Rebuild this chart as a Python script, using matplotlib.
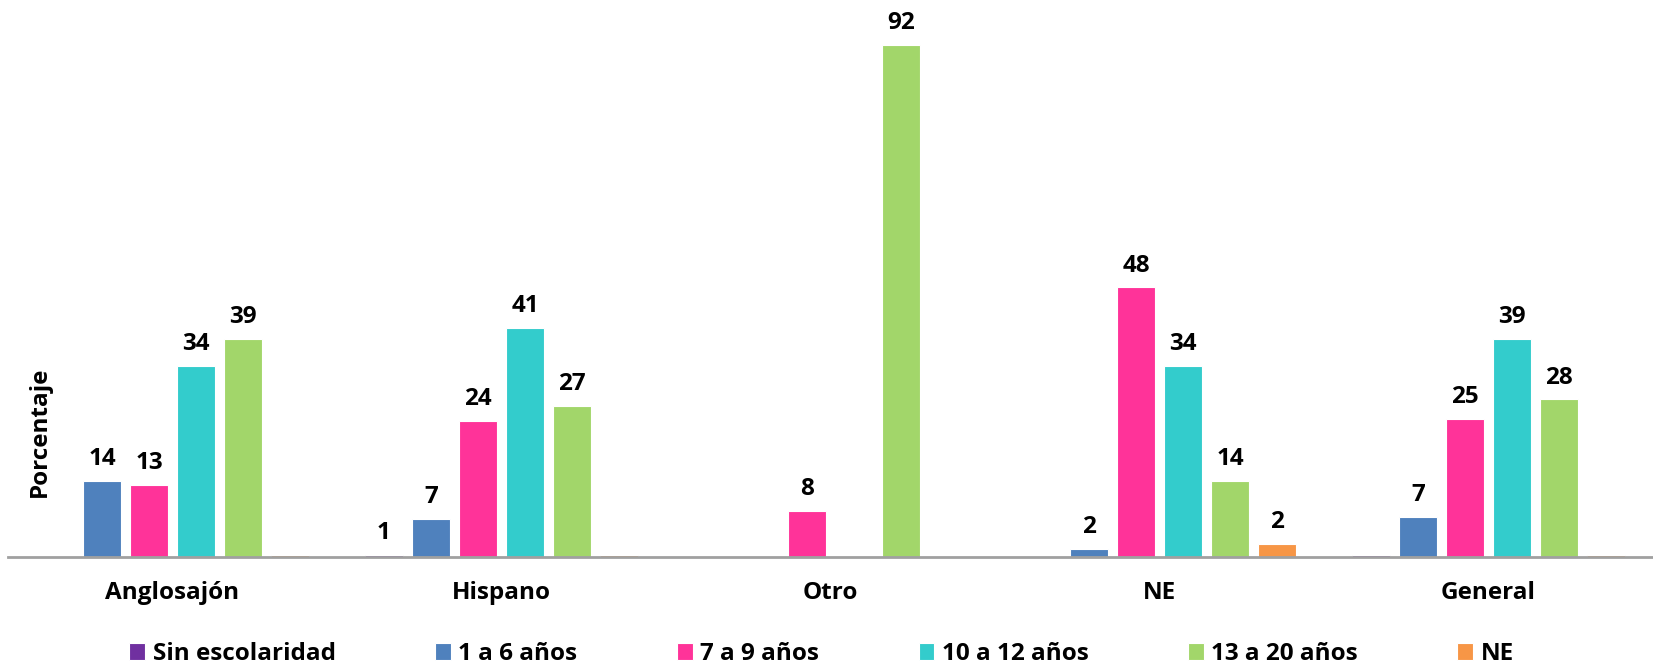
import matplotlib.pyplot as plt
import numpy as np

plt.rcParams['font.family'] = ['Open Sans', 'DejaVu Sans']
plt.rcParams['font.weight'] = 'bold'

categories = ['Anglosajón', 'Hispano', 'Otro', 'NE', 'General']
series = ['Sin escolaridad', '1 a 6 años', '7 a 9 años', '10 a 12 años', '13 a 20 años', 'NE']
colors = ['#7030A0', '#4F81BD', '#FF3399', '#33CCCC', '#A2D66A', '#F79646']

sin_escolaridad = [0, 0.4, 0, 0, 0.4]
anios_1_6 = [13.7, 6.8, 0, 1.5, 7.2]
anios_7_9 = [12.9, 24.5, 8.3, 48.4, 24.8]
anios_10_12 = [34.3, 41.2, 0, 34.3, 39.1]
anios_13_20 = [39.1, 27.1, 92, 13.7, 28.3]
ne = [0.3, 0.3, 0, 2.3, 0.4]

lab_sin = ['', '1', '', '', '']
lab_1_6 = ['14', '7', '', '2', '7']
lab_7_9 = ['13', '24', '8', '48', '25']
lab_10_12 = ['34', '41', '', '34', '39']
lab_13_20 = ['39', '27', '92', '14', '28']
lab_ne = ['', '', '', '2', '']

values = [sin_escolaridad, anios_1_6, anios_7_9, anios_10_12, anios_13_20, ne]
labels = [lab_sin, lab_1_6, lab_7_9, lab_10_12, lab_13_20, lab_ne]

fig = plt.figure(figsize=(16.53, 6.65), dpi=100)
ax = fig.add_axes([8/1653, 108/665, 1 - 8/1653, 557/665])

x = np.arange(len(categories))
step = 0.143
width = 0.116
for i, (vals, labs) in enumerate(zip(values, labels)):
    pos = x + (i - 2.5) * step
    bars = ax.bar(pos, vals, width, color=colors[i], edgecolor='white',
                  linewidth=0.8, label=series[i])
    for b, t in zip(bars, labs):
        if t:
            ax.annotate(t, (b.get_x() + b.get_width() / 2, b.get_height()),
                        xytext=(0, 7), textcoords='offset points',
                        ha='center', va='bottom', fontsize=17.5,
                        fontweight='bold', annotation_clip=False)

ax.set_xlim(-0.5, 4.5)
ax.set_ylim(0, 100)
ax.set_xticks(x)
ax.set_xticklabels(categories, fontsize=17.5, fontweight='bold')
ax.tick_params(axis='x', length=0, pad=17)
ax.set_yticks([])
for s in ['top', 'right', 'left']:
    ax.spines[s].set_visible(False)
ax.spines['bottom'].set_color('#A0A0A0')
ax.spines['bottom'].set_linewidth(2)

fig.text(40/1653, 1 - 432/665, 'Porcentaje', rotation=90, ha='center',
         va='center', fontsize=17.5, fontweight='bold')

fig.legend(loc='center', bbox_to_anchor=(0.497, 1 - 654/665), ncol=6,
           frameon=False, fontsize=17.5, handlelength=0.65, handleheight=0.65,
           handletextpad=0.3, columnspacing=4.1)

fig.savefig('out.png', dpi=100)
